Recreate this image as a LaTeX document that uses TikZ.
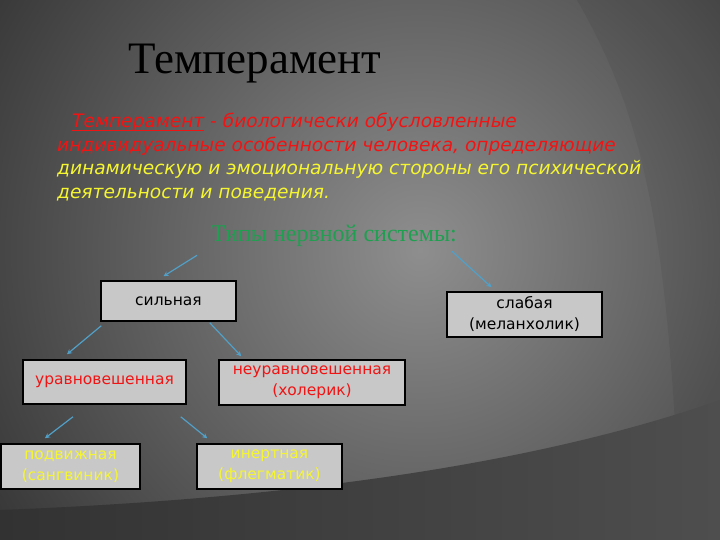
\documentclass[tikz,border=0pt]{standalone}
\usepackage{fontspec}
\setmainfont{Liberation Serif}
\newfontfamily\comicfont{DejaVu Sans}
\definecolor{bgdark}{RGB}{18, 18, 18}
\definecolor{bglight}{RGB}{142, 142, 142}
\definecolor{bandleft}{RGB}{50, 50, 50}
\definecolor{bandright}{RGB}{78, 78, 78}
\definecolor{boxgray}{RGB}{200, 200, 200}
\definecolor{arrowblue}{RGB}{80, 160, 200}
\definecolor{deftred}{RGB}{240, 20, 20}
\definecolor{defyellow}{RGB}{245, 245, 50}
\definecolor{typegreen}{RGB}{30, 160, 80}
\usepackage{tikz}
\usetikzlibrary{arrows.meta, positioning}
\newcommand{\termline}[1]{\setbox0\hbox{#1}\rlap{\rule[-3.5pt]{\wd0}{1.3pt}}\box0\relax}

\begin{document}
\begin{tikzpicture}[x=1pt, y=-1pt,
          title/.style={font=\fontsize{45}{50}\selectfont, text=black},
          deftext/.style={font=\comicfont\itshape\fontsize{18.6}{23.5}\selectfont,
                          align=left, inner sep=0pt},
          subtitle/.style={font=\fontsize{24}{28}\selectfont, text=typegreen},
          typebox/.style={draw=black, line width=1.5pt, fill=boxgray,
                          font=\comicfont\fontsize{15.5}{21}\selectfont,
                          align=center, inner sep=0pt},
          arr/.style={-{Stealth[length=5pt, width=5pt]}, line width=1.2pt, color=arrowblue}
        ]
        \useasboundingbox (0,0) rectangle (720,540);
        % background
        \begin{scope}
          \clip (0,0) rectangle (720,540);
          \fill[bgdark] (0,0) rectangle (720,540);
          \shade[inner color=bglight, outer color=bgdark] (420,250) circle (720);
          \fill[black, opacity=0.06] (577,0) .. controls (640,110) and (670,220) .. (680,540)
            -- (720,540) -- (720,0) -- cycle;
          \shade[left color=bandleft, right color=bandright]
            (0,510) .. controls (260,500) and (520,470) .. (720,400)
            -- (720,540) -- (0,540) -- cycle;
        \end{scope}

        \node[title, anchor=base] (head) at (255,74) {Темперамент};
        \node[deftext, anchor=north west] (def) at (57,113)
          {\hspace*{15pt}\textcolor{deftred}{\termline{Темперамент} - биологически обусловленные}\\
           \textcolor{deftred}{индивидуальные особенности человека, определяющие}\\
           \textcolor{defyellow}{динамическую и эмоциональную стороны его психической}\\
           \textcolor{defyellow}{деятельности и поведения.}};
        \node[subtitle] (types) at (334,236) {Типы нервной системы:};

        \node[typebox, minimum width=135, minimum height=40] (strong) at (168.5,301) {сильная};
        \node[typebox, minimum width=155, minimum height=45] (weak) at (524.5,314.5)
          {слабая\\(меланхолик)};
        \node[typebox, minimum width=163, minimum height=44, text=deftred] (balanced) at (104.5,382)
          {уравновешенная};
        \node[typebox, minimum width=186, minimum height=45, text=deftred] (unbalanced) at (312,382.5)
          {неуравновешенная\\(холерик)};
        \node[typebox, minimum width=139, minimum height=45, text=defyellow] (mobile) at (70.5,466.5)
          {подвижная\\(сангвиник)};
        \node[typebox, minimum width=145, minimum height=45, text=defyellow] (inert) at (269.5,466.5)
          {инертная\\(флегматик)};

        \draw[arr] ([shift={(-137,5)}]types.south) -- ([shift={(-5,-4)}]strong.north);
        \draw[arr] ([shift={(118,1)}]types.south) -- ([shift={(-33,-4)}]weak.north);
        \draw[arr] ([shift={(1,4)}]strong.south west) -- ([shift={(-37.5,-5)}]balanced.north);
        \draw[arr] ([shift={(-27,1)}]strong.south east) -- ([shift={(23,-3)}]unbalanced.north west);
        \draw[arr] ([shift={(-31.5,12)}]balanced.south) -- ([shift={(-25.5,-5)}]mobile.north);
        \draw[arr] ([shift={(-6,12)}]balanced.south east) -- ([shift={(11,-5)}]inert.north west);
\end{tikzpicture}
\end{document}
